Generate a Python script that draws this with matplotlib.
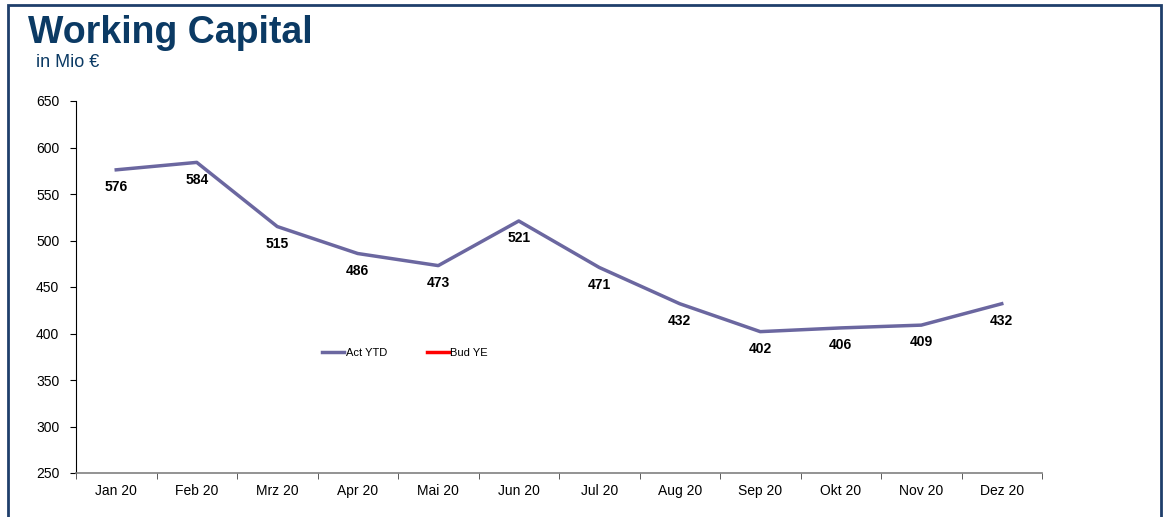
import matplotlib.pyplot as plt
from matplotlib.patches import Rectangle

plt.rcParams['font.family'] = ['Liberation Sans', 'DejaVu Sans']

# data
months = ["Jan 20", "Feb 20", "Mrz 20", "Apr 20", "Mai 20", "Jun 20",
          "Jul 20", "Aug 20", "Sep 20", "Okt 20", "Nov 20", "Dez 20"]
act_ytd = [576, 584, 515, 486, 473, 521, 471, 432, 402, 406, 409, 432]
bud_ye = []

W, H = 1167, 517
fig = plt.figure(figsize=(W / 100, H / 100), dpi=100)

# outer frame (open at the bottom)
fig.add_artist(Rectangle((8 / W, -0.1), (1161 - 8) / W, 1.1 - 5 / H,
                         transform=fig.transFigure, fill=False,
                         edgecolor='#1F3F6B', linewidth=2))

fig.text(28 / W, 1 - 33 / H, "Working Capital", fontsize=27, fontweight='bold',
         color='#0B3A64', va='center', ha='left')
fig.text(36 / W, 1 - 63 / H, "in Mio €", fontsize=13, color='#0B3A64',
         va='center', ha='left')

ax = fig.add_axes([76 / W, 1 - 473 / H, (1042 - 76) / W, (473 - 101) / H])

x = list(range(len(months)))
ax.plot(x, act_ytd, color='#6B67A0', linewidth=2.5, label='Act YTD')
ax.plot([], [], color='#FF0000', linewidth=2.5, label='Bud YE')

for xi, v in zip(x, act_ytd):
    ax.annotate(str(v), (xi, v), xytext=(0, -12.5), textcoords='offset points',
                ha='center', va='center', fontsize=10, fontweight='bold')

ax.set_xlim(-0.5, len(months) - 0.5)
ax.set_ylim(250, 650)
ax.set_yticks(range(250, 651, 50))
ax.set_xticks(x)
ax.set_xticklabels(months)
ax.set_xticks([i - 0.5 for i in range(len(months) + 1)], minor=True)
ax.tick_params(axis='x', which='major', length=0, pad=8, labelsize=10)
ax.tick_params(axis='x', which='minor', length=4, direction='out', color='#404040')
ax.tick_params(axis='y', length=4, direction='out', labelsize=10, pad=8)

for s in ['top', 'right']:
    ax.spines[s].set_visible(False)
ax.spines['left'].set_color('#000000')
ax.spines['bottom'].set_color('#808080')
ax.spines['bottom'].set_linewidth(1.2)

ax.legend(loc='center', bbox_to_anchor=(405 / W, 1 - 353 / H),
          bbox_transform=fig.transFigure, ncol=2, frameon=False,
          fontsize=8, handlelength=2, handletextpad=0.1, columnspacing=3.6)

fig.savefig('out.png', dpi=100)
